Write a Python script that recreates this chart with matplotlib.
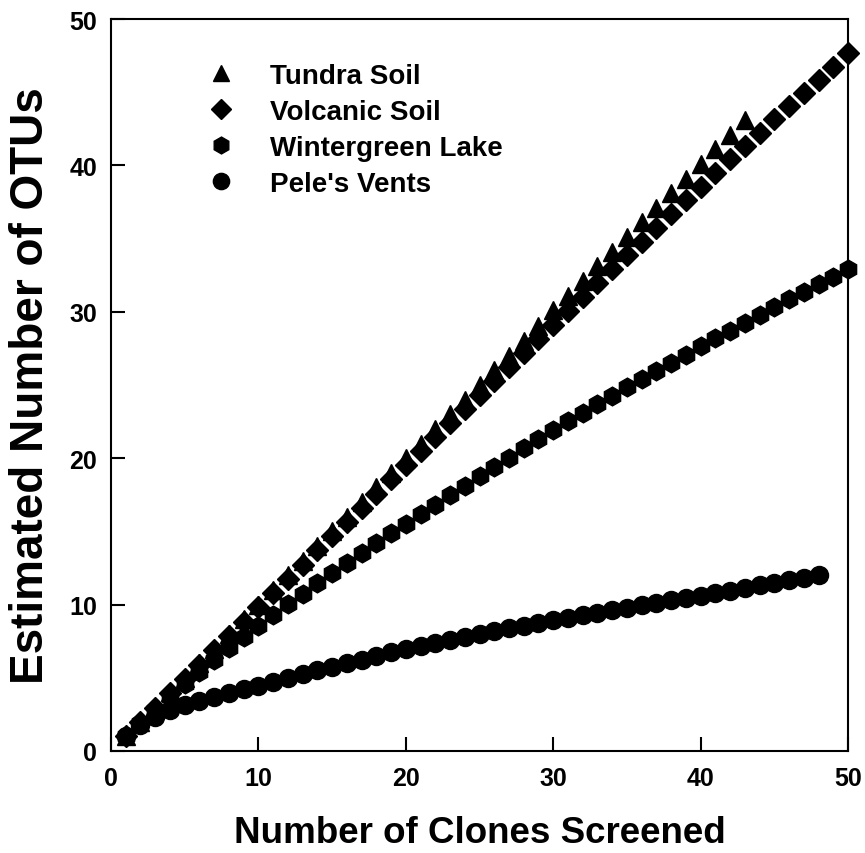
import numpy as np
import matplotlib
matplotlib.use("Agg")
import matplotlib.pyplot as plt

# clones screened
clones_tundra = np.arange(1, 44)
clones_volcanic = np.arange(1, 51)
clones_winter = np.arange(1, 51)
clones_pele = np.arange(1, 49)

tundra = [1.0, 2.0, 3.0, 4.0, 5.0, 6.0, 7.0, 8.0, 9.0, 10.0,
          11.0, 12.0, 13.0, 14.0, 15.0, 16.0, 17.0, 18.0, 19.0, 20.0,
          21.0, 22.0, 23.0, 24.0, 25.0, 26.0, 27.0, 28.0, 29.0, 30.1,
          31.1, 32.1, 33.1, 34.1, 35.1, 36.1, 37.1, 38.1, 39.1, 40.1,
          41.1, 42.1, 43.1]
volcanic = [1.00, 1.98, 2.96, 3.94, 4.92, 5.90, 6.88, 7.86, 8.84, 9.82,
            10.79, 11.76, 12.73, 13.70, 14.67, 15.64, 16.61, 17.58, 18.55, 19.52,
            20.48, 21.44, 22.40, 23.36, 24.32, 25.28, 26.24, 27.20, 28.16, 29.12,
            30.07, 31.02, 31.97, 32.92, 33.86, 34.80, 35.74, 36.68, 37.62, 38.55,
            39.48, 40.41, 41.33, 42.24, 43.15, 44.05, 44.95, 45.85, 46.75, 47.65]
wintergreen = [1.00, 1.92, 2.82, 3.70, 4.56, 5.40, 6.22, 7.02, 7.80, 8.56,
               9.30, 10.03, 10.75, 11.46, 12.16, 12.85, 13.53, 14.20, 14.86, 15.51,
               16.17, 16.83, 17.48, 18.13, 18.77, 19.41, 20.04, 20.67, 21.29, 21.91,
               22.51, 23.10, 23.69, 24.27, 24.84, 25.41, 25.97, 26.53, 27.08, 27.63,
               28.18, 28.72, 29.26, 29.79, 30.32, 30.85, 31.37, 31.89, 32.40, 32.91]
pele = [1.00, 1.80, 2.35, 2.78, 3.13, 3.44, 3.72, 3.98, 4.23, 4.47,
        4.74, 5.00, 5.26, 5.51, 5.76, 6.01, 6.25, 6.49, 6.73, 6.97,
        7.18, 7.39, 7.59, 7.79, 7.99, 8.18, 8.37, 8.56, 8.74, 8.92,
        9.10, 9.27, 9.45, 9.62, 9.79, 9.96, 10.13, 10.29, 10.45, 10.62,
        10.79, 10.96, 11.14, 11.31, 11.49, 11.66, 11.83, 12.00]

fam = ['Liberation Sans', 'DejaVu Sans']

fig = plt.figure(figsize=(8.65, 8.54), dpi=100)
ax = fig.add_axes([111 / 865, 1 - 752 / 854, 737 / 865, 732 / 854])

ax.plot(clones_pele, pele, 'o', color='black', ms=13, clip_on=False, label="Pele's Vents", zorder=3)
ax.plot(clones_winter, wintergreen, 'h', color='black', ms=13.5, clip_on=False, label='Wintergreen Lake', zorder=3)
ax.plot(clones_volcanic, volcanic, 'D', color='black', ms=11, clip_on=False, label='Volcanic Soil', zorder=3)
ax.plot(clones_tundra, tundra, '^', color='black', ms=13, clip_on=False, label='Tundra Soil', zorder=3)

ax.set_xlim(0, 50)
ax.set_ylim(0, 50)
ax.set_xticks([0, 10, 20, 30, 40, 50])
ax.set_yticks([0, 10, 20, 30, 40, 50])
for s in ax.spines.values():
    s.set_linewidth(1.5)
ax.tick_params(direction='in', length=10, width=1.5, labelsize=18)
ax.tick_params(axis='x', pad=11)
ax.tick_params(axis='y', pad=10)
for lab in ax.get_xticklabels() + ax.get_yticklabels():
    lab.set_fontfamily(fam)
    lab.set_fontweight('bold')

ax.set_xlabel('Number of Clones Screened', fontsize=26.5, fontweight='bold',
              family=fam, labelpad=18)
ax.set_ylabel('Estimated Number of OTUs', fontsize=33, fontweight='bold',
              family=fam, labelpad=12)

handles, labels = ax.get_legend_handles_labels()
order = [3, 2, 1, 0]
leg = ax.legend([handles[i] for i in order], [labels[i] for i in order],
                loc='upper left', bbox_to_anchor=(207 / 865, 1 - 64 / 854),
                bbox_transform=fig.transFigure, frameon=False,
                prop={'family': fam, 'weight': 'bold', 'size': 20},
                handlelength=1.0, handletextpad=1.25, labelspacing=0.36,
                borderpad=0, borderaxespad=0, numpoints=1, markerscale=0.9)

fig.savefig('out.png', dpi=100)
